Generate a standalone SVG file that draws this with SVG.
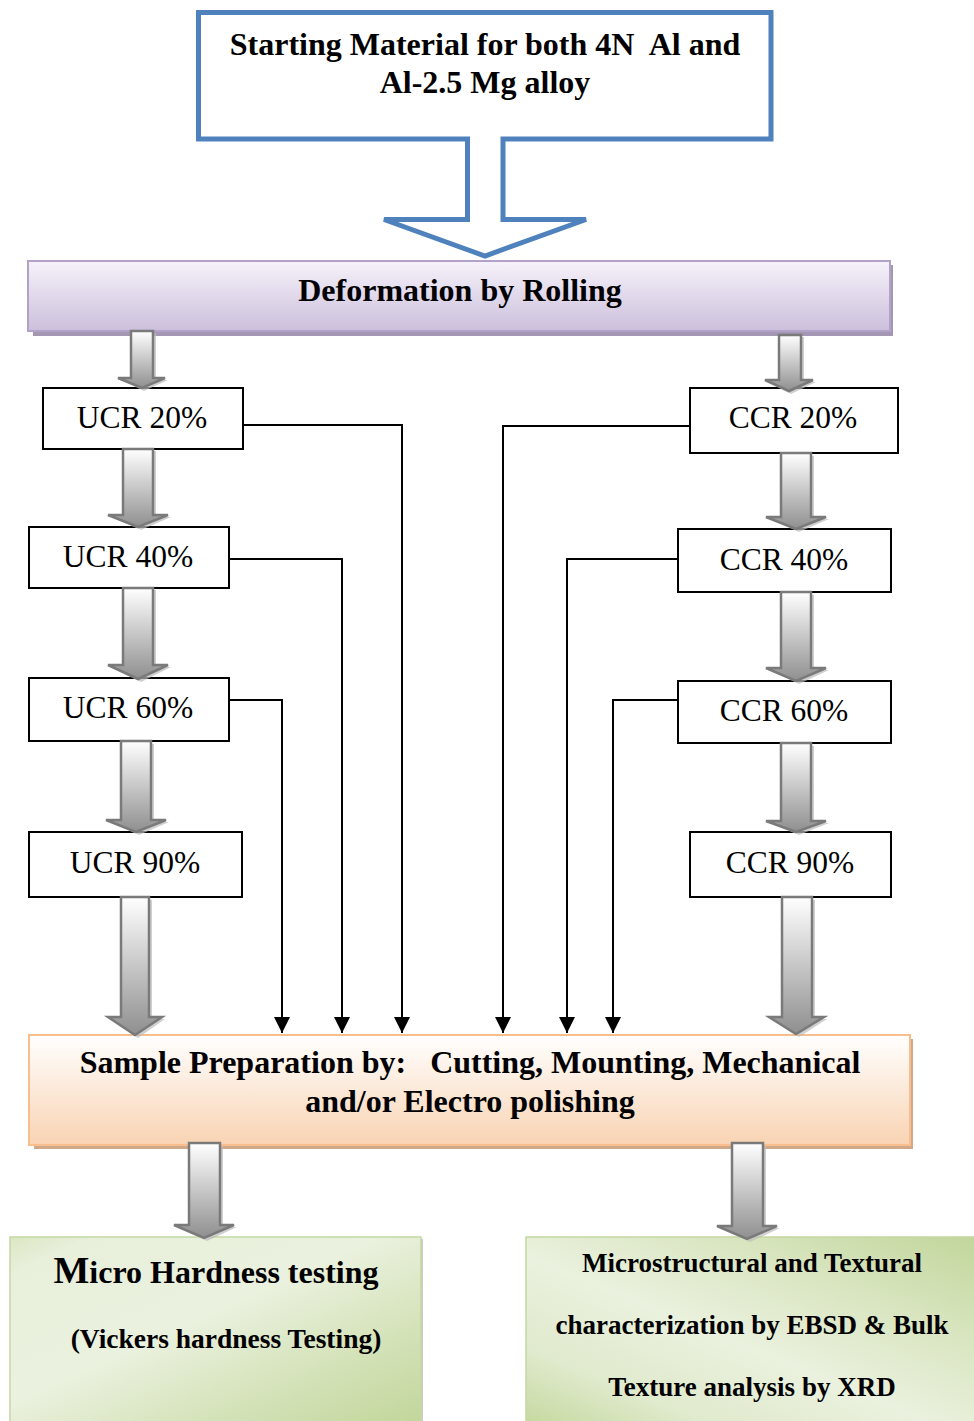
<svg xmlns="http://www.w3.org/2000/svg" width="974" height="1421" viewBox="0 0 974 1421">
<defs>
<style>
.t{font-family:"Liberation Serif","Times New Roman",serif;fill:#000;text-anchor:middle}
.b{font-weight:bold}
.box{fill:#fff;stroke:#000;stroke-width:2}
.blk{fill:url(#ga);stroke:#7a7a7a;stroke-width:2.5}
.blksh{fill:#bdbdbd;opacity:0.7}
.conn{fill:none;stroke:#000;stroke-width:2}
</style>
<linearGradient id="ga" x1="0" y1="0" x2="0" y2="1">
<stop offset="0" stop-color="#ffffff"/>
<stop offset="1" stop-color="#8f8f8f"/>
</linearGradient>
<linearGradient id="gp" x1="0" y1="0" x2="0" y2="1">
<stop offset="0" stop-color="#f6f2fa"/>
<stop offset="1" stop-color="#ccbfdc"/>
</linearGradient>
<linearGradient id="go" x1="0" y1="0" x2="0" y2="1">
<stop offset="0" stop-color="#ffffff"/>
<stop offset="1" stop-color="#f9d3b3"/>
</linearGradient>
<linearGradient id="gg" x1="0" y1="0" x2="1" y2="1">
<stop offset="0" stop-color="#dbe7c3"/>
<stop offset="0.1" stop-color="#e8efdb"/>
<stop offset="0.45" stop-color="#eaf1de"/>
<stop offset="0.7" stop-color="#d7e4bd"/>
<stop offset="1" stop-color="#c2d69b"/>
</linearGradient>
<linearGradient id="gg2" x1="1" y1="0" x2="0" y2="1">
<stop offset="0" stop-color="#c2d69b"/>
<stop offset="0.3" stop-color="#dae6c2"/>
<stop offset="0.55" stop-color="#eaf1de"/>
<stop offset="0.8" stop-color="#e0eacd"/>
<stop offset="1" stop-color="#c6d9a0"/>
</linearGradient>
<marker id="ah" markerUnits="userSpaceOnUse" markerWidth="16" markerHeight="16" viewBox="0 0 15 15" refX="15" refY="7.5" orient="auto">
<path d="M0,0 L15,7.5 L0,15 Z" fill="#000"/>
</marker>
</defs>

<g id="start">
<path d="M198.5,12.5 H771 V139 H503 V219.5 H586 L485,256 L384,219.5 H467.5 V139 H198.5 Z" fill="#fff" stroke="#4f81bd" stroke-width="5" stroke-linejoin="miter"/>
<text class="t b" x="485" y="55" font-size="32" xml:space="preserve">Starting Material for both 4N  Al and</text>
<text class="t b" x="485" y="93" font-size="32">Al-2.5 Mg alloy</text>
</g>

<g id="deformation">
<rect x="33" y="265" width="860" height="71" fill="#a497b3"/>
<rect x="28" y="261" width="862" height="70" fill="url(#gp)" stroke="#b3a2c7" stroke-width="2"/>
<text class="t b" x="460" y="301" font-size="32">Deformation by Rolling</text>
</g>

<g id="ucr20"><rect class="box" x="43" y="388" width="200" height="61"/><text class="t" x="142" y="428" font-size="31.5">UCR 20%</text></g>
<g id="ucr40"><rect class="box" x="29" y="527" width="200" height="61"/><text class="t" x="128" y="567" font-size="31.5">UCR 40%</text></g>
<g id="ucr60"><rect class="box" x="29" y="678" width="200" height="63"/><text class="t" x="128" y="718" font-size="31.5">UCR 60%</text></g>
<g id="ucr90"><rect class="box" x="29" y="832" width="213" height="65"/><text class="t" x="135" y="873" font-size="31.5">UCR 90%</text></g>

<g id="ccr20"><rect class="box" x="690" y="388" width="208" height="65"/><text class="t" x="793" y="428" font-size="31.5">CCR 20%</text></g>
<g id="ccr40"><rect class="box" x="678" y="529" width="213" height="63"/><text class="t" x="784" y="570" font-size="31.5">CCR 40%</text></g>
<g id="ccr60"><rect class="box" x="678" y="681" width="213" height="62"/><text class="t" x="784" y="721" font-size="31.5">CCR 60%</text></g>
<g id="ccr90"><rect class="box" x="690" y="832" width="201" height="65"/><text class="t" x="790" y="873" font-size="31.5">CCR 90%</text></g>

<g id="sample">
<rect x="34" y="1039" width="879" height="110" fill="#d1a98a"/>
<rect x="29" y="1035" width="881" height="110" fill="url(#go)" stroke="#f9be8e" stroke-width="2"/>
<text class="t b" x="470" y="1073" font-size="32" xml:space="preserve">Sample Preparation by:   Cutting, Mounting, Mechanical</text>
<text class="t b" x="470" y="1112" font-size="32">and/or Electro polishing</text>
</g>

<g id="hardness">
<rect x="12" y="1239" width="411" height="185" fill="#a9a9a9" opacity="0.6"/>
<rect x="10" y="1237" width="411" height="186" fill="url(#gg)" stroke="#c4d8a0" stroke-width="1.5"/>
<text class="t b" x="216" y="1283" font-size="32"><tspan font-size="38">M</tspan>icro Hardness testing</text>
<text class="t b" x="226" y="1348" font-size="27.5">(Vickers hardness Testing)</text>
</g>

<g id="texture">
<rect x="526" y="1237" width="450" height="186" fill="url(#gg2)" stroke="#c4d8a0" stroke-width="1.5"/>
<text class="t b" x="752" y="1272" font-size="27">Microstructural and Textural</text>
<text class="t b" x="752" y="1334" font-size="27">characterization by EBSD &amp; Bulk</text>
<text class="t b" x="752" y="1396" font-size="27">Texture analysis by XRD</text>
</g>

<g id="connectors">
<g class="blksh">
<path d="M133,333 H156 V380 H168 L144,391 L121,380 H133 Z"/>
<path d="M781,337 H804 V382 H816 L791,394 L768,382 H781 Z"/>
<path d="M126,451 H156 V517 H171 L141,530 L111,517 H126 Z"/>
<path d="M126,590 H156 V667 H171 L141,682 L111,667 H126 Z"/>
<path d="M124,744 H154 V822 H169 L139,835 L109,822 H124 Z"/>
<path d="M124,900 H152 V1019 H165 L138,1038 L111,1019 H124 Z"/>
<path d="M784,456 H814 V519 H829 L799,532 L769,519 H784 Z"/>
<path d="M784,595 H814 V670 H829 L799,684 L769,670 H784 Z"/>
<path d="M784,746 H814 V823 H829 L799,835 L769,823 H784 Z"/>
<path d="M785,900 H815 V1019 H827 L799,1037 L772,1019 H785 Z"/>
<path d="M192,1146 H223 V1227 H237 L207,1241 L177,1227 H192 Z"/>
<path d="M735,1146 H766 V1228 H780 L750,1242 L720,1228 H735 Z"/>
</g>
<path class="blk" d="M131,331 H153 V378 H165 L142,388 L118,378 H131 Z"/>
<path class="blk" d="M779,335 H801 V380 H813 L789,391 L765,380 H779 Z"/>
<path class="blk" d="M123,449 H153 V515 H168 L138,527 L108,515 H123 Z"/>
<path class="blk" d="M123,588 H153 V665 H168 L138,679 L108,665 H123 Z"/>
<path class="blk" d="M121,741 H151 V820 H166 L136,832 L106,820 H121 Z"/>
<path class="blk" d="M121,897 H149 V1017 H162 L135,1035 L108,1017 H121 Z"/>
<path class="blk" d="M781,453 H811 V517 H826 L796,529 L766,517 H781 Z"/>
<path class="blk" d="M781,592 H811 V668 H826 L796,681 L766,668 H781 Z"/>
<path class="blk" d="M781,743 H811 V821 H826 L796,832 L766,821 H781 Z"/>
<path class="blk" d="M782,897 H812 V1017 H824 L796,1034 L769,1017 H782 Z"/>
<path class="blk" d="M189,1143 H220 V1225 H234 L204,1238 L174,1225 H189 Z"/>
<path class="blk" d="M732,1143 H763 V1226 H777 L747,1239 L717,1226 H732 Z"/>
<path class="conn" marker-end="url(#ah)" d="M243,425 H402 V1033"/>
<path class="conn" marker-end="url(#ah)" d="M229,559 H342 V1033"/>
<path class="conn" marker-end="url(#ah)" d="M229,700 H282 V1033"/>
<path class="conn" marker-end="url(#ah)" d="M690,426 H503 V1033"/>
<path class="conn" marker-end="url(#ah)" d="M678,559 H567 V1033"/>
<path class="conn" marker-end="url(#ah)" d="M678,700 H613 V1033"/>
</g>
</svg>
